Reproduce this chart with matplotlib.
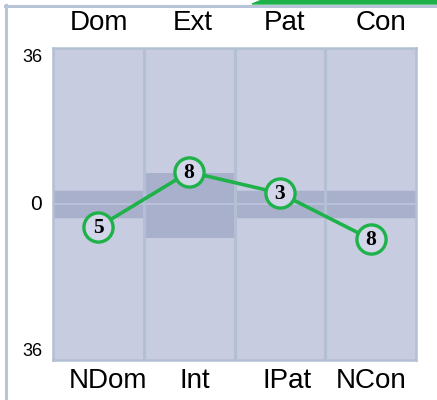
import numpy as np
import matplotlib.pyplot as plt
from matplotlib.patches import Rectangle, Polygon
from matplotlib.lines import Line2D

# scale data
top_labels = ['Dom', 'Ext', 'Pat', 'Con']
bottom_labels = ['NDom', 'Int', 'IPat', 'NCon']
scores = [5, 8, 3, 8]
positions = [-5.3, 7.4, 2.5, -8.1]
scale_max = 36
center_band = (-3.0, 3.0)
ext_band = (-7.8, 7.2)

BG = '#c8cce0'
DARK = '#a8b0cc'
LINE = '#b3c0d4'
GREEN = '#1fb24a'

W, H = 437, 400
fig = plt.figure(figsize=(W / 100, H / 100), dpi=100)
fig.patch.set_facecolor('white')

# frame lines + green tab at top right
fig.add_artist(Line2D([5.5 / W, 5.5 / W], [0, 1 - 5 / H], color='#b8c4d8', lw=2.2))
fig.add_artist(Line2D([5 / W, 1], [1 - 5.5 / H, 1 - 5.5 / H], color='#b8c4d8', lw=2.2))
fig.add_artist(Polygon([[252 / W, 1 - 4 / H], [262 / W, 1], [1, 1], [1, 1 - 4 / H]],
                       closed=True, color=GREEN, transform=fig.transFigure))

left, right, top, bottom = 53, 416, 48, 360
pw, ph = right - left, bottom - top
ax = fig.add_axes([left / W, 1 - bottom / H, pw / W, ph / H])
ax.set_facecolor(BG)
ax.set_xlim(0, 4)
ax.set_ylim(-scale_max, scale_max)
ax.set_xticks([]); ax.set_yticks([])
for s in ax.spines.values():
    s.set_color(LINE)
    s.set_linewidth(1.8)

# bands
ax.axhspan(center_band[0], center_band[1], color=DARK, zorder=1)
ax.add_patch(Rectangle((1, ext_band[0]), 1, ext_band[1] - ext_band[0],
                       facecolor=DARK, edgecolor='none', zorder=1))
ax.axhline(0, color='#bac2da', lw=1.5, zorder=1.5)
for xv in [1, 2, 3]:
    ax.axvline(xv, color=LINE, lw=2.2, zorder=2)

# score line with circles
x = np.arange(len(scores)) + 0.5
ax.plot(x, positions, color=GREEN, lw=2.6, zorder=3)
ax.plot(x, positions, 'o', ms=21, mfc='#d2d6e8', mec=GREEN, mew=2.4, zorder=4)
for xi, yi, s in zip(x, positions, scores):
    ax.text(xi, yi - 0.3, str(s), ha='center', va='center', fontsize=15.5, fontweight='bold',
            family='Liberation Serif', zorder=5)

# category labels
top_off = [0.01, 0.04, 0.05, 0.11]
bot_off = [0.11, 0.06, 0.08, 0.0]
for i, lab in enumerate(top_labels):
    ax.text(i + 0.5 + top_off[i], 1 + 25 / ph, lab, transform=ax.get_xaxis_transform(),
            ha='center', va='center', fontsize=20, family='Liberation Sans')
for i, lab in enumerate(bottom_labels):
    ax.text(i + 0.5 + bot_off[i], -21 / ph, lab, transform=ax.get_xaxis_transform(),
            ha='center', va='center', fontsize=20, family='Liberation Sans')

# scale labels
ax.text(-11 / pw, 1 - 9 / ph, str(scale_max), transform=ax.transAxes,
        ha='right', va='center', fontsize=13, family='Liberation Sans')
ax.text(-11 / pw, 0.5, '0', transform=ax.transAxes,
        ha='right', va='center', fontsize=15, family='Liberation Sans')
ax.text(-11 / pw, 8 / ph, str(scale_max), transform=ax.transAxes,
        ha='right', va='center', fontsize=13, family='Liberation Sans')

fig.savefig('out.png', dpi=100)
